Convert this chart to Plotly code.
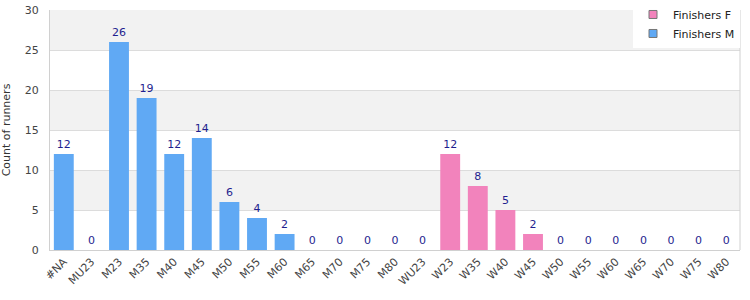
import plotly.graph_objects as go

categories = ["#NA", "MU23", "M23", "M35", "M40", "M45", "M50", "M55", "M60", "M65", "M70", "M75", "M80",
              "WU23", "W23", "W35", "W40", "W45", "W50", "W55", "W60", "W65", "W70", "W75", "W80"]
male_cats = categories[:13]
male_vals = [12, 0, 26, 19, 12, 14, 6, 4, 2, 0, 0, 0, 0]
female_cats = categories[13:]
female_vals = [0, 12, 8, 5, 2, 0, 0, 0, 0, 0, 0, 0]
y_ticks = [0, 5, 10, 15, 20, 25, 30]
band_ranges = [(5, 10), (15, 20), (25, 30)]

FONT = "DejaVu Sans"
label_font = dict(family=FONT, size=11, color="#1f1f8f")
M_COLOR = "#60a9f4"
F_COLOR = "#f283bc"

fig = go.Figure()
fig.add_trace(go.Bar(
    x=male_cats, y=male_vals, name="Finishers M", showlegend=False,
    marker=dict(color=M_COLOR, line=dict(width=0)),
    text=[str(v) for v in male_vals], textposition="outside",
    textfont=label_font, cliponaxis=False, width=0.72,
))
fig.add_trace(go.Bar(
    x=female_cats, y=female_vals, name="Finishers F", showlegend=False,
    marker=dict(color=F_COLOR, line=dict(width=0)),
    text=[str(v) for v in female_vals], textposition="outside",
    textfont=label_font, cliponaxis=False, width=0.72,
))
# legend entries (square swatches with grey border)
for name, col in [("Finishers F", F_COLOR), ("Finishers M", M_COLOR)]:
    fig.add_trace(go.Scatter(
        x=[None], y=[None], mode="markers", name=name,
        marker=dict(symbol="square", size=8, color=col, line=dict(color="#777", width=1)),
    ))

for lo, hi in band_ranges:
    fig.add_shape(type="rect", xref="paper", yref="y", x0=0, x1=1, y0=lo, y1=hi,
                  fillcolor="#f2f2f2", line=dict(width=0), layer="below")

fig.update_layout(
    width=750, height=300,
    margin=dict(l=50, r=10, t=10, b=50, autoexpand=False),
    paper_bgcolor="white", plot_bgcolor="white",
    font=dict(family=FONT, size=11, color="#444"),
    barmode="overlay",
    showlegend=True,
    legend=dict(x=1, y=1.0417, xanchor="right", yanchor="top",
                bgcolor="white", font=dict(family=FONT, size=11, color="#222"),
                itemwidth=30, tracegroupgap=0),
    xaxis=dict(categoryorder="array", categoryarray=categories, tickangle=-45,
               showline=True, linecolor="#d0d0d0", linewidth=1, mirror=False,
               ticks="", showgrid=False, tickfont=dict(size=11, color="#444")),
    yaxis=dict(range=[0, 30], tickvals=y_ticks, showgrid=True, gridcolor="#dcdcdc",
               zeroline=False, showline=True, linecolor="#d0d0d0", ticks="",
               ticklabelstandoff=8,
               title=dict(text="Count of runners", font=dict(size=11, color="#333"), standoff=12),
               tickfont=dict(size=11, color="#444")),
)
fig.add_shape(type="line", xref="paper", yref="paper", x0=1, x1=1, y0=0, y1=1,
              line=dict(color="#d0d0d0", width=1))

fig.write_html("out.html")
